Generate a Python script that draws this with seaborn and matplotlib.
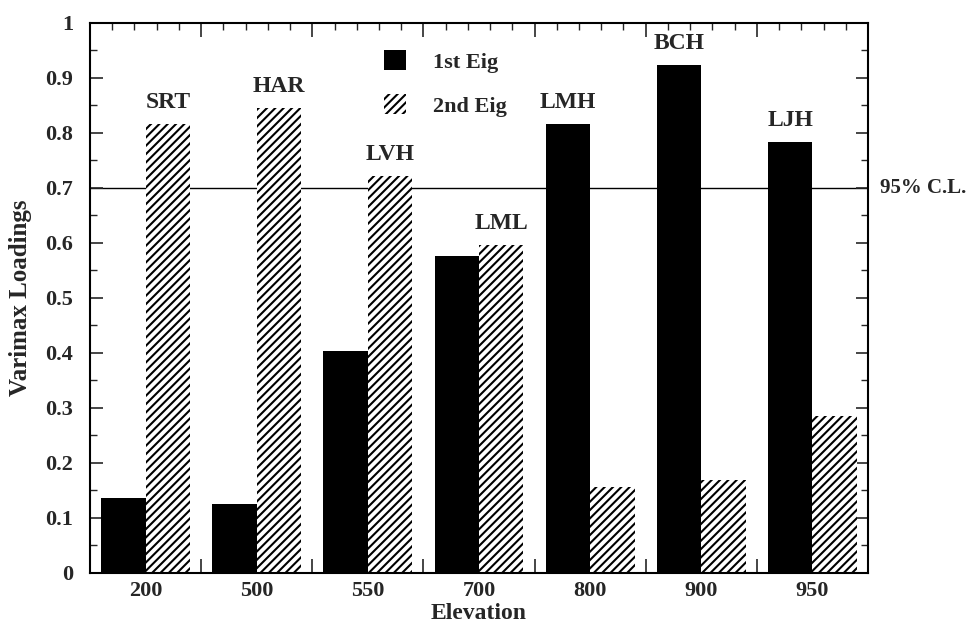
import matplotlib
matplotlib.use("Agg")
import matplotlib.pyplot as plt
import matplotlib.patches as mpatches
from matplotlib.ticker import MultipleLocator, FixedLocator, NullFormatter
import seaborn as sns
import pandas as pd
import numpy as np

# ---- data ----
elevations = ["200", "500", "550", "700", "800", "900", "950"]
site_labels = ["SRT", "HAR", "LVH", "LML", "LMH", "BCH", "LJH"]
first_eig = [0.136, 0.125, 0.403, 0.577, 0.817, 0.924, 0.784]
second_eig = [0.817, 0.846, 0.722, 0.597, 0.156, 0.169, 0.285]
series_names = ["1st Eig", "2nd Eig"]
conf_level = 0.7
conf_label = "95% C.L."

df = pd.DataFrame({
    "Elevation": elevations * 2,
    "Loading": first_eig + second_eig,
    "Series": [series_names[0]] * len(elevations) + [series_names[1]] * len(elevations),
})

sns.set_theme(style="ticks")
plt.rcParams["font.family"] = ["Liberation Serif", "DejaVu Serif"]
plt.rcParams["font.weight"] = "bold"
plt.rcParams["hatch.linewidth"] = 1.5

fig = plt.figure(figsize=(9.7, 6.26), dpi=100)
ax = fig.add_axes([0.0928, 0.0847, 0.8020, 0.8786])

ax.axhline(conf_level, color="black", lw=1.0, zorder=0.5)

sns.barplot(data=df, x="Elevation", y="Loading", hue="Series",
            order=elevations, hue_order=series_names,
            palette=["black", "white"], saturation=1, width=0.8, gap=0,
            edgecolor="black", linewidth=0, legend=False, ax=ax, zorder=2)

for p in ax.containers[1]:
    p.set_hatch("////")
    p.set_edgecolor("black")
    p.set_linewidth(0)

# bar labels above the taller bar of each group
for i in range(len(elevations)):
    c = 0 if first_eig[i] > second_eig[i] else 1
    patch = ax.containers[c][i]
    ax.annotate(site_labels[i],
                (patch.get_x() + patch.get_width() / 2, patch.get_height()),
                xytext=(0, 8), textcoords="offset points",
                ha="center", va="bottom", fontsize=17, fontweight="bold")

ax.set_xlim(-0.5, len(elevations) - 0.5)
ax.set_ylim(0, 1)

# y ticks
ax.yaxis.set_minor_locator(MultipleLocator(0.05))
ax.set_yticks(np.round(np.arange(0, 1.01, 0.1), 1))
ax.set_yticklabels(["0"] + [f"{v:.1f}" for v in np.arange(0.1, 0.95, 0.1)] + ["1"])
ax.tick_params(axis="y", which="major", direction="in", length=9, width=1.2,
               left=True, right=True, labelsize=16, pad=12)
ax.tick_params(axis="y", which="minor", direction="in", length=5, width=1.0,
               left=True, right=True)

# x ticks: labels at centers, fine minor ticks
n = len(elevations)
fine = [b + d for b in np.arange(-0.5, n - 0.5, 1.0) for d in (0.2, 0.4, 0.6, 0.8)]
ax.set_xticks(range(n))
ax.set_xticklabels(elevations)
ax.xaxis.set_minor_locator(FixedLocator(fine))
ax.tick_params(axis="x", which="major", length=0, labelsize=16, pad=6)
ax.tick_params(axis="x", which="minor", direction="in", length=5, width=1.0,
               top=True, bottom=True)

# group boundary ticks
bounds = list(np.arange(-0.5, n, 1.0))
for loc in ("top", "bottom"):
    sec = ax.secondary_xaxis(loc)
    sec.set_xticks(bounds)
    sec.xaxis.set_major_formatter(NullFormatter())
    sec.tick_params(direction="in", length=10, width=1.2)
    for s in sec.spines.values():
        s.set_visible(False)

for s in ax.spines.values():
    s.set_linewidth(1.5)
    s.set_color("black")
    s.set_zorder(5)

ax.set_xlabel("Elevation", fontsize=17, fontweight="bold", labelpad=1)
ax.set_ylabel("Varimax Loadings", fontsize=18, fontweight="bold", labelpad=10)

ax.text(1.016, conf_level, conf_label, transform=ax.get_yaxis_transform(),
        ha="left", va="center", fontsize=15, fontweight="bold")

handles = [mpatches.Patch(facecolor="black", edgecolor="black", lw=0),
           mpatches.Patch(facecolor="white", edgecolor="black", hatch="////", lw=0)]
ax.legend(handles, series_names, loc="upper left", bbox_to_anchor=(0.378, 0.950),
          frameon=False, fontsize=16, handlelength=1.0, handleheight=1.0,
          handletextpad=1.2, labelspacing=0.95, borderpad=0, borderaxespad=0)

fig.savefig("out.png", dpi=100)
